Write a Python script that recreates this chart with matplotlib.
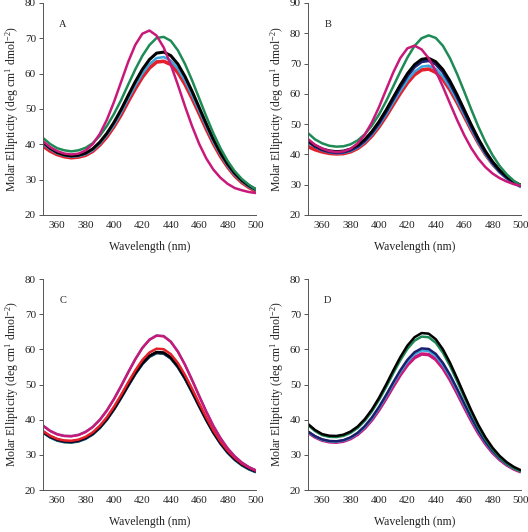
import numpy as np
import matplotlib.pyplot as plt

plt.rcParams['font.family'] = ['Liberation Serif', 'DejaVu Serif']
plt.rcParams['mathtext.default'] = 'regular'

wavelength = np.arange(350, 501, 5)

# panel A
a_red = [39.5, 38.1, 37.1, 36.5, 36.2, 36.4, 36.9, 38.0, 39.8, 42.1, 45.0, 48.3, 52.1, 55.7, 59.0, 61.6,
         63.3, 63.5, 62.6, 60.3, 57.0, 53.0, 48.7, 44.3, 40.2, 36.6, 33.6, 31.1, 29.2, 27.8, 26.7]
a_cyan = [40.2, 38.6, 37.45, 36.8, 36.5, 36.65, 37.2, 38.3, 40.2, 42.6, 45.5, 49.0, 52.9, 56.6, 60.0, 62.7,
          64.4, 64.7, 63.7, 61.4, 58.0, 53.9, 49.5, 45.0, 40.7, 37.1, 33.9, 31.4, 29.5, 28.0, 27.0]
a_black = [40.6, 38.9, 37.7, 37.0, 36.7, 36.9, 37.5, 38.7, 40.6, 43.1, 46.2, 49.8, 53.8, 57.7, 61.2, 64.0,
           65.8, 66.1, 65.1, 62.7, 59.2, 55.0, 50.4, 45.8, 41.4, 37.6, 34.4, 31.8, 29.8, 28.3, 27.2]
a_green = [41.8, 40.1, 38.9, 38.3, 38.0, 38.3, 39.0, 40.3, 42.4, 45.2, 48.6, 52.5, 56.9, 61.2, 65.05, 68.1,
           70.1, 70.4, 69.3, 66.6, 62.75, 58.1, 53.0, 47.9, 43.1, 38.9, 35.3, 32.4, 30.2, 28.55, 27.2]
a_magenta = [40.84, 39.2, 38.08, 37.39, 37.13, 37.36, 38.25, 40.06, 42.92, 46.95, 51.99, 57.64, 63.32, 68.14,
             71.31, 72.2, 70.76, 67.42, 62.53, 56.83, 50.79, 45.13, 40.12, 36.0, 32.84, 30.53, 28.83, 27.63,
             27.0, 26.5, 26.2]

# panel B
b_red = [42.6, 41.55, 40.83, 40.35, 40.16, 40.27, 40.86, 41.97, 43.71, 46.09, 49.06, 52.58, 56.4, 60.16, 63.59,
         66.3, 67.9, 68.2, 67.1, 64.76, 61.31, 57.13, 52.6, 48.03, 43.75, 40.0, 36.84, 34.27, 32.31, 30.81, 29.7]
b_cyan = [44.1, 42.46, 41.34, 40.67, 40.39, 40.52, 41.14, 42.29, 44.08, 46.53, 49.6, 53.22, 57.15, 61.01, 64.54,
          67.32, 68.98, 69.3, 68.18, 65.72, 62.14, 57.81, 53.12, 48.38, 43.94, 40.03, 36.74, 34.07, 32.01, 30.42,
          29.23]
b_navy = [44.3, 42.67, 41.55, 40.9, 40.64, 40.8, 41.48, 42.69, 44.58, 47.15, 50.36, 54.15, 58.26, 62.3, 66.0,
          68.91, 70.65, 71.0, 69.85, 67.31, 63.6, 59.1, 54.23, 49.31, 44.7, 40.65, 37.24, 34.47, 32.35, 30.7, 29.48]
b_black = [44.61, 42.97, 41.86, 41.21, 40.96, 41.13, 41.82, 43.06, 44.98, 47.59, 50.85, 54.69, 58.86, 62.96,
           66.71, 69.67, 71.44, 71.8, 70.64, 68.07, 64.31, 59.76, 54.83, 49.85, 45.19, 41.09, 37.64, 34.84, 32.69,
           31.03, 29.8]
b_green = [47.03, 44.96, 43.66, 42.86, 42.56, 42.68, 43.34, 44.63, 46.67, 49.52, 53.15, 57.53, 62.4, 67.32, 71.95,
           75.81, 78.36, 79.31, 78.45, 75.87, 71.76, 66.58, 60.8, 54.83, 49.14, 44.06, 39.72, 36.17, 33.4, 31.26,
           29.68]
b_magenta = [45.04, 43.17, 41.92, 41.11, 40.79, 40.99, 41.85, 43.65, 46.52, 50.57, 55.61, 61.33, 67.01, 71.82,
             75.02, 75.91, 74.67, 71.75, 67.51, 62.38, 56.83, 51.4, 46.39, 42.07, 38.54, 35.78, 33.68, 32.16,
             31.04, 30.17, 29.55]

# panel C
c_green = [36.27, 34.93, 34.03, 33.58, 33.48, 33.78, 34.53, 35.76, 37.58, 39.95, 42.84, 46.12, 49.58, 52.9, 55.77,
           57.85, 58.9, 58.74, 57.37, 54.89, 51.59, 47.75, 43.72, 39.8, 36.2, 33.13, 30.58, 28.57, 27.01, 25.86,
           25.02]
c_navy = [36.47, 35.13, 34.23, 33.78, 33.68, 33.98, 34.73, 35.96, 37.78, 40.15, 43.04, 46.32, 49.78, 53.1, 55.97,
          58.05, 59.1, 58.94, 57.57, 55.09, 51.79, 47.95, 43.92, 40.0, 36.4, 33.33, 30.78, 28.77, 27.21, 26.06,
          25.22]
c_black = [36.62, 35.28, 34.38, 33.93, 33.83, 34.13, 34.88, 36.11, 37.93, 40.3, 43.19, 46.47, 49.93, 53.25, 56.12,
           58.2, 59.25, 59.09, 57.72, 55.24, 51.94, 48.1, 44.07, 40.15, 36.55, 33.48, 30.93, 28.92, 27.36, 26.21,
           25.37]
c_red = [36.77, 35.44, 34.54, 34.1, 34.01, 34.33, 35.12, 36.39, 38.26, 40.7, 43.68, 47.05, 50.61, 54.02, 56.97,
         59.12, 60.2, 60.04, 58.65, 56.11, 52.73, 48.8, 44.67, 40.66, 36.97, 33.83, 31.22, 29.16, 27.57, 26.4, 25.54]
c_purple = [38.34, 36.86, 35.89, 35.43, 35.35, 35.7, 36.56, 37.95, 39.99, 42.66, 45.91, 49.6, 53.5, 57.23, 60.46,
            62.79, 63.96, 63.78, 62.22, 59.41, 55.67, 51.32, 46.77, 42.34, 38.26, 34.79, 31.9, 29.62, 27.85, 26.54,
            25.58]
c_magenta = [38.24, 36.76, 35.79, 35.33, 35.25, 35.6, 36.46, 37.85, 39.89, 42.56, 45.81, 49.5, 53.4, 57.13, 60.36,
             62.69, 63.86, 63.68, 62.12, 59.31, 55.57, 51.22, 46.67, 42.24, 38.16, 34.69, 31.8, 29.52, 27.75,
             26.44, 25.48]

# panel D
d_magenta = [36.42, 35.08, 34.17, 33.72, 33.61, 33.9, 34.64, 35.85, 37.65, 39.98, 42.83, 46.07, 49.49, 52.76,
             55.59, 57.65, 58.68, 58.52, 57.16, 54.71, 51.44, 47.65, 43.66, 39.79, 36.23, 33.19, 30.67, 28.68,
             27.13, 25.99, 25.16]
d_cyan = [36.52, 35.19, 34.28, 33.84, 33.75, 34.06, 34.84, 36.1, 37.96, 40.37, 43.32, 46.67, 50.2, 53.58, 56.5,
          58.63, 59.7, 59.55, 58.15, 55.64, 52.28, 48.38, 44.28, 40.3, 36.64, 33.52, 30.93, 28.89, 27.3, 26.13, 25.29]
d_navy = [36.63, 35.29, 34.39, 33.96, 33.87, 34.19, 34.99, 36.27, 38.17, 40.62, 43.61, 47.01, 50.6, 54.04, 57.01,
          59.18, 60.27, 60.11, 58.7, 56.15, 52.75, 48.8, 44.64, 40.61, 36.9, 33.73, 31.11, 29.04, 27.43, 26.25, 25.4]
d_green = [38.49, 36.76, 35.59, 35.13, 35.05, 35.4, 36.25, 37.65, 39.69, 42.35, 45.6, 49.28, 53.18, 56.91, 60.14,
           62.46, 63.63, 63.45, 61.89, 59.08, 55.34, 51.0, 46.45, 42.03, 37.95, 34.49, 31.6, 29.32, 27.55, 26.24,
           25.28]
d_black = [38.79, 37.07, 35.9, 35.45, 35.38, 35.75, 36.63, 38.06, 40.15, 42.87, 46.2, 49.96, 53.95, 57.76, 61.06,
           63.44, 64.64, 64.46, 62.88, 60.02, 56.21, 51.78, 47.15, 42.64, 38.49, 34.96, 32.02, 29.7, 27.9, 26.57,
           25.6]

RED = '#e3202b'
CYAN = '#3aa6dc'
BLACK = '#000000'
GREEN = '#1e8a55'
MAGENTA = '#c8197a'
NAVY = '#1b1f6e'
PURPLE = '#8e3a8e'

panels = [
    ('A', [0.0814, 0.5959, 0.4034, 0.3985], (20, 80),
     [(a_red, RED, 2.6), (a_cyan, CYAN, 1.8), (a_black, BLACK, 2.2), (a_green, GREEN, 1.8),
      (a_magenta, MAGENTA, 1.8)]),
    ('B', [0.5833, 0.5959, 0.4034, 0.3985], (20, 90),
     [(b_red, RED, 2.6), (b_cyan, CYAN, 1.8), (b_navy, NAVY, 2.4), (b_black, BLACK, 2.0), (b_green, GREEN, 1.8),
      (b_magenta, MAGENTA, 1.8)]),
    ('C', [0.0814, 0.0789, 0.4034, 0.3966], (20, 80),
     [(c_green, GREEN, 1.8), (c_navy, NAVY, 2.2), (c_black, BLACK, 1.8), (c_red, RED, 1.8),
      (c_purple, PURPLE, 1.8), (c_magenta, MAGENTA, 1.6)]),
    ('D', [0.5833, 0.0789, 0.4034, 0.3966], (20, 80),
     [(d_magenta, MAGENTA, 2.6), (d_cyan, CYAN, 1.8), (d_navy, NAVY, 1.8), (d_green, GREEN, 1.8),
      (d_black, BLACK, 1.8)]),
]

fig = plt.figure(figsize=(5.28, 5.32), dpi=100)

for letter, rect, ylim, series in panels:
    ax = fig.add_axes(rect)
    for vals, col, lw in series:
        ax.plot(wavelength, vals, color=col, lw=lw, solid_capstyle='butt')
    ax.set_xlim(350, 500)
    ax.set_ylim(*ylim)
    ax.set_xticks(np.arange(360, 501, 20))
    ax.set_yticks(np.arange(ylim[0], ylim[1] + 1, 10))
    ax.spines['top'].set_visible(False)
    ax.spines['right'].set_visible(False)
    for s in ('left', 'bottom'):
        ax.spines[s].set_color('#555555')
        ax.spines[s].set_linewidth(0.7)
    ax.tick_params(axis='y', direction='out', length=3, width=0.7, color='#555555',
                   labelsize=8, pad=2, labelcolor='#222222')
    ax.tick_params(axis='x', length=0, labelsize=8, pad=4, labelcolor='#222222')
    ax.set_xlabel('Wavelength (nm)', fontsize=8.5, labelpad=8, color='#222222')
    ax.set_ylabel('Molar Ellipticity (deg cm$^{1}$ dmol$^{-2}$)', fontsize=8.5, labelpad=3,
                  color='#222222')
    ax.text(364, ylim[1] - 6.1 * (ylim[1] - ylim[0]) / 60, letter, fontsize=7.5, color='#222222',
            ha='center', va='center')

fig.savefig('out.png', dpi=100)
